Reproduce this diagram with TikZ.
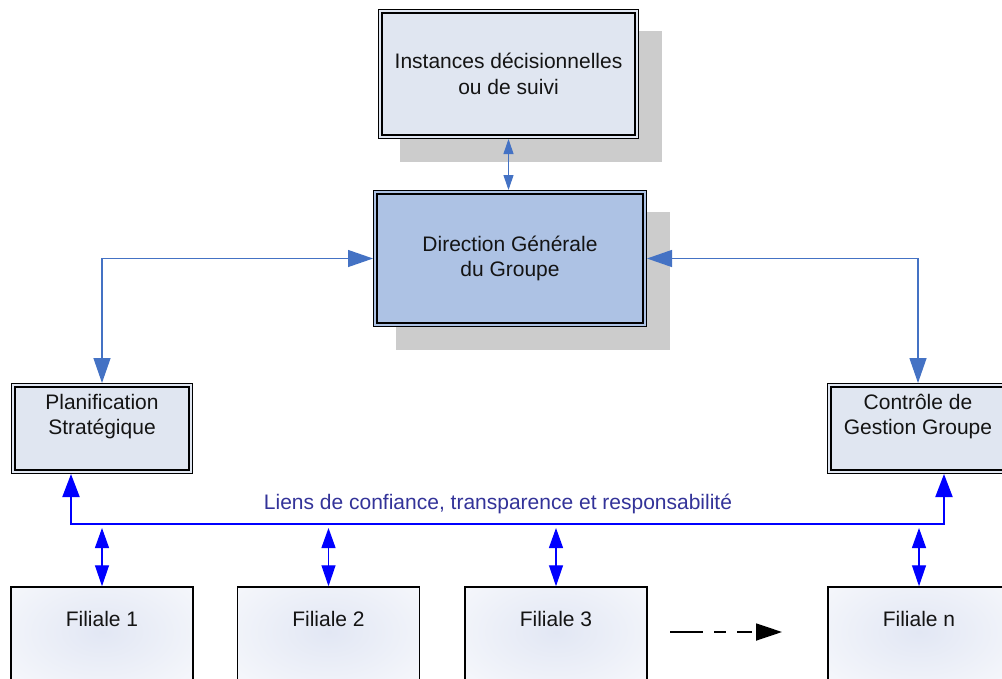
\documentclass[tikz,border=0pt]{standalone}
\usepackage{fontspec}
\setmainfont{Liberation Sans}
\usetikzlibrary{arrows.meta}

\definecolor{paleblue}{RGB}{224,230,241}
\definecolor{midblue}{RGB}{173,194,228}
\definecolor{shadowgray}{RGB}{204,204,204}
\definecolor{linkblue}{RGB}{68,114,196}
\definecolor{busblue}{RGB}{0,0,255}
\definecolor{labelblue}{RGB}{51,51,153}
\definecolor{glow}{RGB}{226,231,244}
\definecolor{ink}{RGB}{20,20,20}

\begin{document}
\begin{tikzpicture}[x=1pt,y=-1pt,
  txt/.style={font=\fontsize{21}{25.5}\selectfont, text=ink, align=center, inner sep=0pt},
  % framed box with a double black border
  dbox/.style={rectangle, draw=black, line width=1.4pt, double=#1,
    double distance=1.8pt, fill=#1, inner sep=0pt, outer sep=2.3pt},
  % subsidiary box with a soft glow inside
  fbox/.style={rectangle, draw=black, line width=1.5pt, fill=white,
    minimum width=182pt, minimum height=110pt, inner sep=0pt,
    path picture={\shade[inner color=glow, outer color=white]
      ([yshift=10pt]path picture bounding box.center) ellipse [x radius=180pt, y radius=110pt];}},
  shadowbox/.style={fill=shadowgray, draw=none},
  smalllink/.style={draw=linkblue, line width=1pt,
    {Triangle[length=15pt,width=10pt]}-{Triangle[length=15pt,width=10pt]}},
  link/.style={draw=linkblue, line width=1.3pt,
    {Triangle[length=25pt,width=17pt]}-{Triangle[length=25pt,width=17pt]}},
  bus/.style={draw=busblue, line width=2pt,
    {Triangle[length=23pt,width=17pt]}-{Triangle[length=23pt,width=17pt]}},
  filarrow/.style={draw=busblue, line width=1.3pt, shorten <=4pt,
    {Triangle[length=20pt,width=14pt]}-{Triangle[length=21pt,width=14pt]}},
  etc/.style={draw=black, line width=1.8pt,
    dash pattern=on 33pt off 11pt on 12pt off 11pt on 15pt off 40pt,
    -{Triangle[length=26pt,width=17pt]}}
]
\clip (0,0) rectangle (1002,678);
\fill[white] (0,0) rectangle (1002,678);

% drop shadows of the two upper boxes
\fill[shadowbox] (400,31) rectangle (662,162);
\fill[shadowbox] (396,212) rectangle (670,350);

% governance boxes
\node[dbox=paleblue, minimum width=256.4pt, minimum height=125.4pt, txt]
  (inst) at (508.5,74) {Instances décisionnelles\\ou de suivi};
\node[dbox=midblue, minimum width=269.4pt, minimum height=132.4pt, txt]
  (dg) at (510,258.5) {Direction Générale\\du Groupe};
\node[dbox=paleblue, minimum width=177.4pt, minimum height=86.4pt]
  (plan) at (102,428.5) {};
\node[txt] (plantxt) at (102,416.5) {Planification\\Stratégique};
\node[dbox=paleblue, minimum width=177.4pt, minimum height=86.4pt]
  (cg) at (918,428.5) {};
\node[txt] (cgtxt) at (918,416.5) {Contrôle de\\Gestion Groupe};

% subsidiaries
\node[fbox] (f1) at (102,642) {};
\node[fbox] (f2) at (328.5,642) {};
\node[fbox] (f3) at (556,642) {};
\node[fbox] (fn) at (919,642) {};
\node[txt] (f1t) at (102,619) {Filiale 1};
\node[txt] (f2t) at (328.5,619) {Filiale 2};
\node[txt] (f3t) at (556,619) {Filiale 3};
\node[txt] (fnt) at (919,619) {Filiale n};

% links between the head office and the group functions
\draw[smalllink] (inst.south) -- (inst.south |- dg.north);
\draw[link] (dg.west) -| (plan.north);
\draw[link] (dg.east) -| (cg.north);

% shared relationship line
\coordinate (busL) at (71,524);
\coordinate (busR) at (944,524);
\draw[bus] (busL |- plan.south) -- (busL) -- (busR) -- (busR |- cg.south);
\node[txt, text=labelblue] (liens) at (498,504)
  {Liens de confiance, transparence et responsabilité};
\foreach \f in {f1,f2,f3,fn}
  \draw[filarrow] (\f.north |- busL) -- (\f.north);

% further subsidiaries
\coordinate (moreA) at (670,632);
\coordinate (moreB) at (782,632);
\draw[etc] (moreA) -- (moreB);
\end{tikzpicture}
\end{document}
